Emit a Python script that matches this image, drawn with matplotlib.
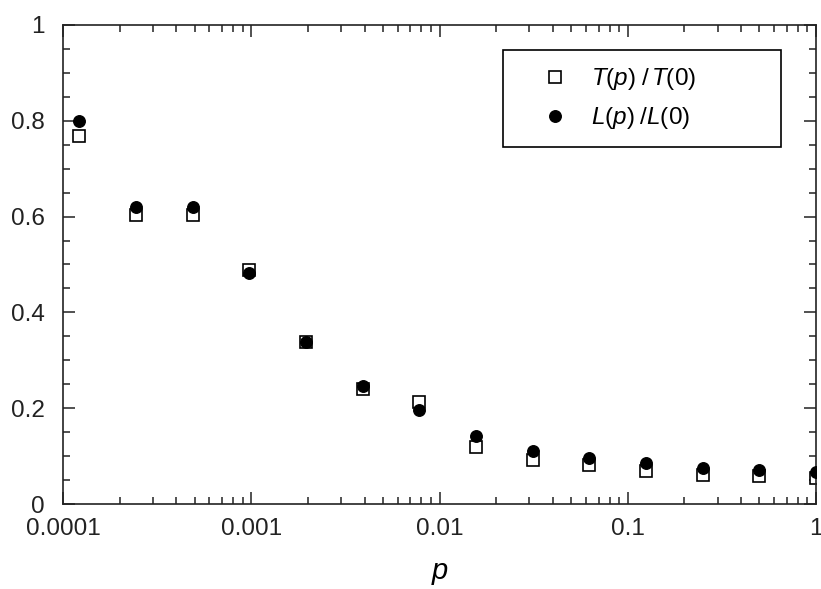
import matplotlib
matplotlib.use("Agg")
import matplotlib.pyplot as plt
from matplotlib.patches import Rectangle
from matplotlib.ticker import FixedLocator, LogLocator, MultipleLocator, FuncFormatter

plt.rcParams["font.family"] = "Liberation Sans"
plt.rcParams["mathtext.fontset"] = "custom"
plt.rcParams["mathtext.rm"] = "Liberation Sans"
plt.rcParams["mathtext.it"] = "Liberation Sans:italic"

# probabilite de recablage p = 2^-13 ... 2^0
p = [0.000122, 0.000244, 0.000488, 0.000977, 0.00195, 0.00391, 0.00781,
     0.0156, 0.03125, 0.0625, 0.125, 0.25, 0.5, 1.0]
# T(p)/T(0) : carres vides
t_ratio = [0.768, 0.603, 0.603, 0.489, 0.338, 0.240, 0.213,
           0.119, 0.092, 0.081, 0.068, 0.061, 0.059, 0.054]
# L(p)/L(0) : ronds pleins
l_ratio = [0.800, 0.620, 0.620, 0.482, 0.338, 0.246, 0.196,
           0.142, 0.111, 0.097, 0.085, 0.076, 0.070, 0.067]

x_ticks = [0.0001, 0.001, 0.01, 0.1, 1]
x_labels = ["0.0001", "0.001", "0.01", "0.1", "1"]
y_ticks = [0, 0.2, 0.4, 0.6, 0.8, 1]

fig = plt.figure(figsize=(8.21, 5.89), dpi=100)
ax = fig.add_axes([0.0767, 0.1443, 0.9173, 0.8133])

ax.plot(p, t_ratio, "s", ms=8.5, mfc="white", mec="black", mew=1.2,
        label="$T(p)\\;/\\,T(0)$", zorder=2)
ax.plot(p, l_ratio, "o", ms=8.3, mfc="black", mec="black",
        label="$L(p)\\;/L(0)$", zorder=3)

ax.set_xscale("log")
ax.set_xlim(0.0001, 1)
ax.set_ylim(0, 1)

ax.xaxis.set_major_locator(FixedLocator(x_ticks))
ax.set_xticks(x_ticks)
ax.set_xticklabels(x_labels)
ax.xaxis.set_minor_locator(LogLocator(base=10, subs=range(2, 10)))
ax.xaxis.set_minor_formatter(FuncFormatter(lambda v, pos: ""))
ax.set_yticks(y_ticks)
ax.yaxis.set_major_formatter(FuncFormatter(lambda v, pos: "%g" % v))
ax.yaxis.set_minor_locator(MultipleLocator(0.05))

ax.tick_params(which="both", direction="in", top=True, right=True,
               width=1.1, colors="#222222", labelsize=17.5)
ax.tick_params(which="major", length=8.5)
ax.tick_params(which="minor", length=5)
ax.tick_params(axis="x", which="major", pad=10)
ax.tick_params(axis="y", which="major", pad=13)
for s in ax.spines.values():
    s.set_linewidth(1.2)
    s.set_color("#222222")

ax.set_xlabel("$p$", fontsize=21, labelpad=14)

# legende sans cadre + cadre dessine a part (plus large a droite)
leg = ax.legend(loc="upper left", bbox_to_anchor=(0.585, 0.975), fontsize=17.5,
                frameon=False, borderpad=0.7, handletextpad=0.6,
                labelspacing=0.55, handlelength=1.8)
ax.add_patch(Rectangle((0.584, 0.745), 0.370, 0.202, transform=ax.transAxes,
                       fill=False, edgecolor="black", linewidth=1.2,
                       zorder=4, clip_on=False))

fig.savefig("out.png", dpi=100)
